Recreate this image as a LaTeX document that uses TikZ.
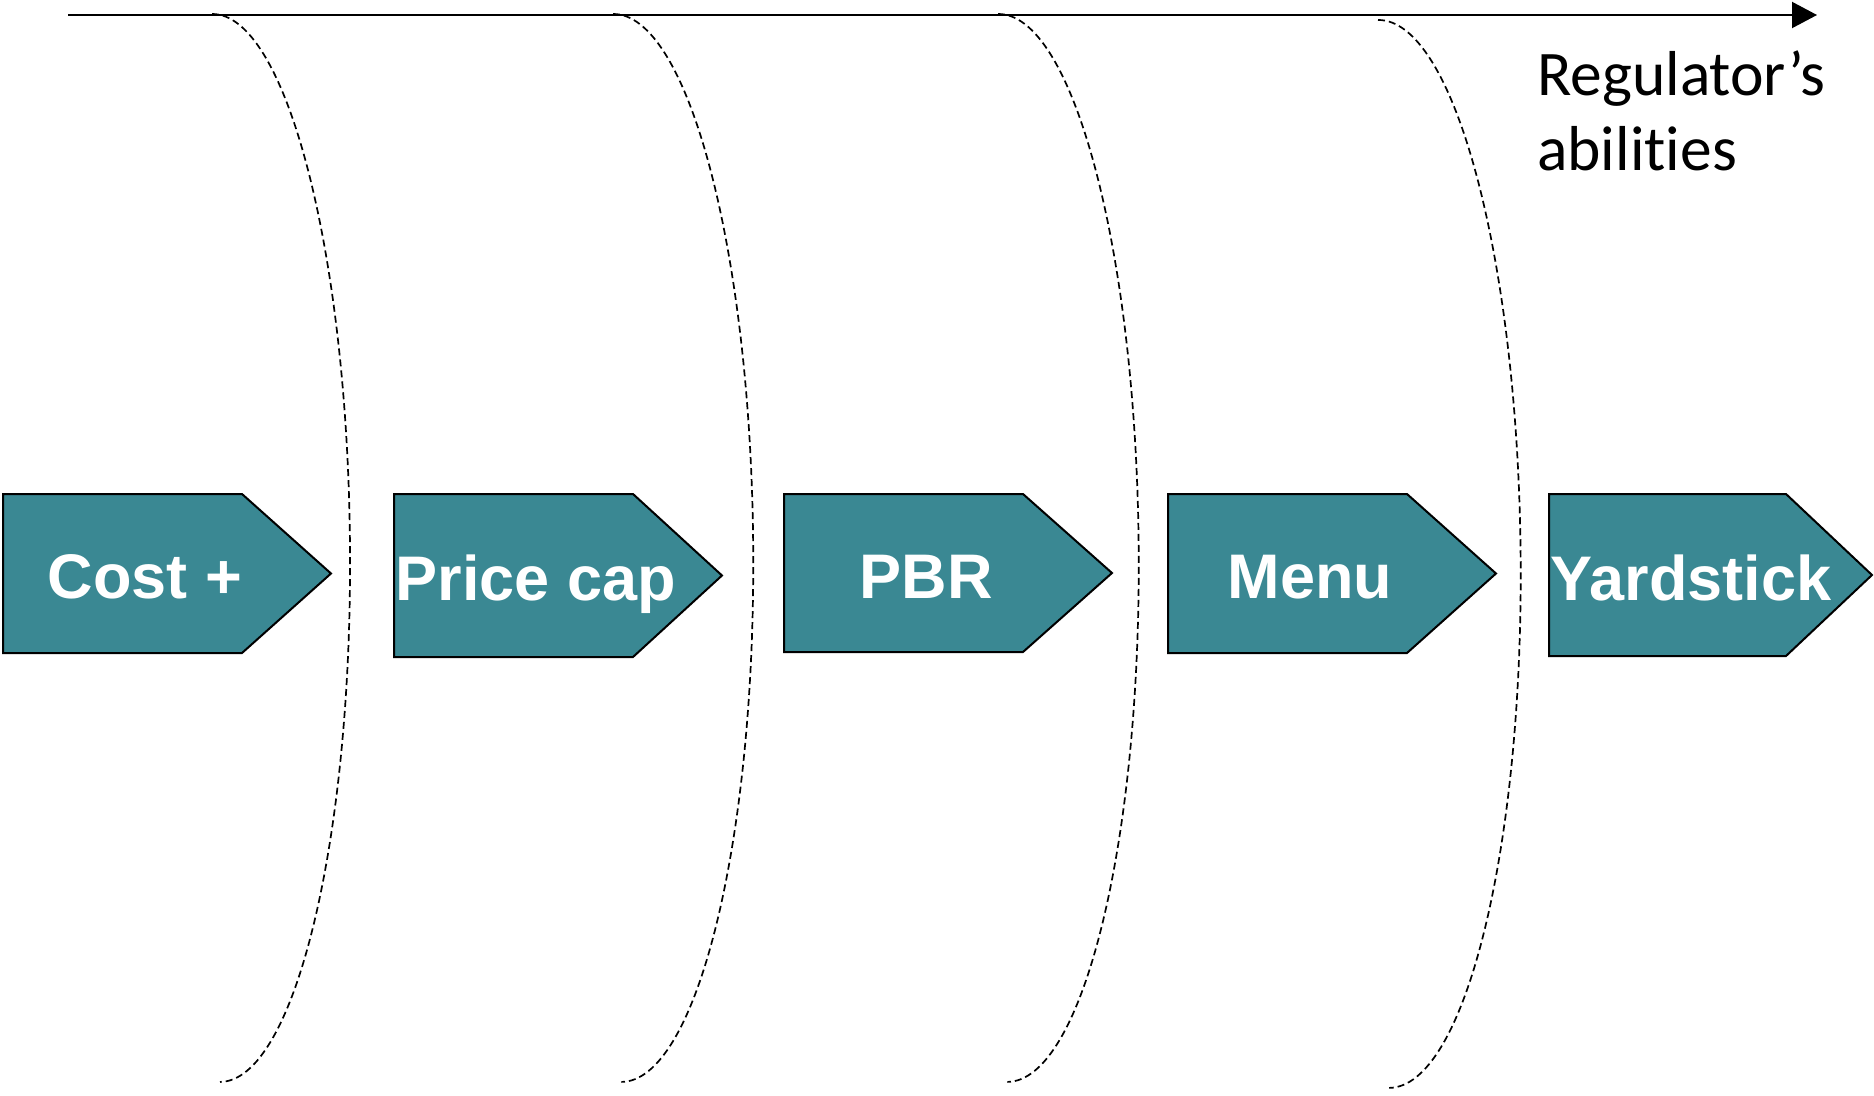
\documentclass[tikz,border=0pt]{standalone}
\usepackage{fontspec}
\newfontfamily\boxfont{Liberation Sans}
\newfontfamily\calfont[RawFeature={-liga;-clig;-calt;-dlig}]{Carlito}
\usetikzlibrary{arrows.meta}
\definecolor{teal1}{RGB}{58,136,147}
\tikzset{
  stepbox/.style={draw=black, line width=2pt, fill=teal1, line join=miter},
  lbl/.style={anchor=base, inner sep=0pt, text=white, font=\boxfont\bfseries\fontsize{63}{75}\selectfont},
  regtxt/.style={anchor=base west, inner sep=0pt, text=black, font=\calfont\fontsize{63.5}{75}\selectfont},
  sepline/.style={draw=black, line width=1.7pt, dash pattern=on 7pt off 4pt},
  axis/.style={draw=black, line width=2pt, -{Triangle[length=25pt,width=26pt]}}
}
\begin{document}
\begin{tikzpicture}[x=1pt,y=-1pt]
\useasboundingbox (0,0) rectangle (1874,1095);
% dashed separators
\draw[sepline, rotate around={0.43:(212,14)}] (212,14) arc[start angle=-90, end angle=90, x radius=134, y radius=534];
\draw[sepline, rotate around={0.45:(613,14)}] (613,14) arc[start angle=-90, end angle=90, x radius=136, y radius=534];
\draw[sepline, rotate around={0.5:(998,14)}] (998,14) arc[start angle=-90, end angle=90, x radius=136, y radius=534];
\draw[sepline, rotate around={0.6:(1378,20)}] (1378,20) arc[start angle=-90, end angle=90, x radius=137, y radius=534];
% axis
\coordinate (axs) at (68,15);
\coordinate (axe) at (1817,15);
\draw[axis] (axs) -- (axe);
\node[regtxt] (reg1) at (1537,95) {Regulator’s};
\node[regtxt] (reg2) at (1537,170) {abilities};
% boxes
\draw[stepbox] (3,494) -- ++(239,0) -- ++(89,79.5) -- ++(-89,79.5) -- ++(-239,0) -- cycle;
\node[lbl] (cost) at (145,598) {Cost +};
\draw[stepbox] (394,494) -- ++(239,0) -- ++(89,81.5) -- ++(-89,81.5) -- ++(-239,0) -- cycle;
\node[lbl] (price) at (536,600) {Price cap};
\draw[stepbox] (784,494) -- ++(239,0) -- ++(89,79) -- ++(-89,79) -- ++(-239,0) -- cycle;
\node[lbl] (pbr) at (926,598) {PBR};
\draw[stepbox] (1168,494) -- ++(239,0) -- ++(89,79.5) -- ++(-89,79.5) -- ++(-239,0) -- cycle;
\node[lbl] (menu) at (1310,598) {Menu};
\draw[stepbox] (1549,494) -- ++(237,0) -- ++(86,81) -- ++(-86,81) -- ++(-237,0) -- cycle;
\node[lbl] (yard) at (1691,600) {Yardstick};
\end{tikzpicture}
\end{document}
